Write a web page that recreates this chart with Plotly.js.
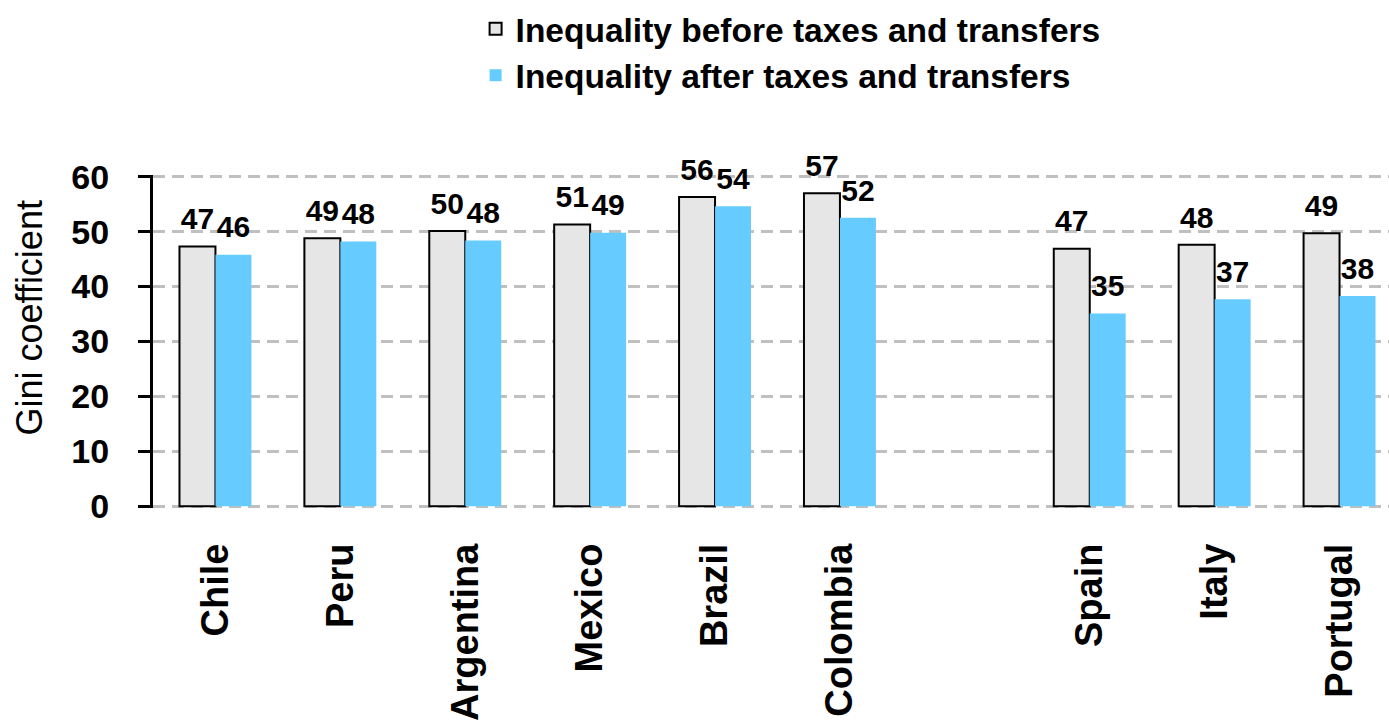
<!DOCTYPE html>
<html>
<head>
<meta charset="utf-8">
<script src="https://cdn.plot.ly/plotly-3.0.1.min.js"></script>
<style>html,body{margin:0;padding:0;background:#fff;}#chart{width:1389px;height:722px;}</style>
</head>
<body>
<div id="chart"></div>
<script>
// Categories (a blank slot separates Latin America from Southern Europe)
const countries = ["Chile", "Peru", "Argentina", "Mexico", "Brazil", "Colombia", " ", "Spain", "Italy", "Portugal"];
// Gini coefficients
const giniBefore = [47.3, 48.8, 50.1, 51.3, 56.3, 57.0, null, 46.9, 47.6, 49.7];
const giniAfter  = [45.8, 48.2, 48.4, 49.8, 54.6, 52.5, null, 35.1, 37.7, 38.3];
// Data labels as printed on the chart
const labelsBefore = ["47", "49", "50", "51", "56", "57", "", "47", "48", "49"];
const labelsAfter  = ["46", "48", "48", "49", "54", "52", "", "35", "37", "38"];
const yTicks = [0, 10, 20, 30, 40, 50, 60];
const seriesNames = ["Inequality before taxes and transfers", "Inequality after taxes and transfers"];

const FONT = "Arial, 'Liberation Sans', Helvetica, sans-serif";
const labelFont = {family: FONT, size: 30, color: "#000", weight: "bold"};

function barTrace(name, y, color, lineColor, lineWidth, group) {
  return {
    type: "bar", name: name, x: countries, y: y,
    offsetgroup: group,
    marker: {color: color, line: {color: lineColor, width: lineWidth}},
    hoverinfo: "x+y"
  };
}
function labelTrace(y, text, group) {
  return {
    type: "scatter", mode: "markers+text", x: countries, y: y, text: text,
    offsetgroup: group, showlegend: false, hoverinfo: "skip",
    textposition: "top center", textfont: labelFont, cliponaxis: false,
    marker: {size: 14, opacity: 0, color: "#fff"}
  };
}

const traces = [
  barTrace(seriesNames[0], giniBefore, "#e6e6e6", "#000", 2, "a"),
  barTrace(seriesNames[1], giniAfter, "#66ccff", "#66ccff", 0, "b"),
  labelTrace(giniBefore, labelsBefore, "a"),
  labelTrace(giniAfter, labelsAfter, "b")
];

const layout = {
  width: 1389, height: 722,
  margin: {l: 153, r: 0, t: 171, b: 214},
  paper_bgcolor: "#fff", plot_bgcolor: "#fff",
  font: {family: FONT, color: "#000"},
  barmode: "group", bargap: 0.424, bargroupgap: 0,
  scattermode: "group", scattergap: 0.424,
  showlegend: true,
  legend: {
    x: 0.261, y: 1.524, xanchor: "left", yanchor: "top",
    orientation: "v", bgcolor: "rgba(0,0,0,0)",
    font: {family: FONT, size: 33.5, color: "#000", weight: "bold"},
    tracegroupgap: 0, itemwidth: 30
  },
  xaxis: {
    type: "category", categoryorder: "array", categoryarray: countries,
    range: [-0.5, 9.396],
    showline: false, showgrid: false, zeroline: false, ticks: "",
    tickangle: -90, ticklabelstandoff: 27,
    tickfont: {family: FONT, size: 38, color: "#000", weight: "bold"}
  },
  yaxis: {
    range: [-0.3, 60.3], tickvals: yTicks, ticktext: yTicks.map(String),
    showline: true, linecolor: "#000", linewidth: 3,
    ticks: "outside", ticklen: 12, tickwidth: 3, tickcolor: "#000",
    showgrid: true, gridcolor: "#c0c0c0", gridwidth: 3, griddash: "12px,7px",
    zeroline: false,
    tickfont: {family: FONT, size: 34, color: "#000", weight: "bold"},
    ticklabelstandoff: 22
  },
  annotations: [{
    text: "Gini coefficient", textangle: -90, showarrow: false,
    xref: "paper", yref: "paper", x: -0.0995, y: 0.569,
    xanchor: "center", yanchor: "middle",
    font: {family: FONT, size: 36, color: "#000"}
  }]
};

Plotly.newPlot("chart", traces, layout, {displayModeBar: false, staticPlot: true});
</script>
</body>
</html>
